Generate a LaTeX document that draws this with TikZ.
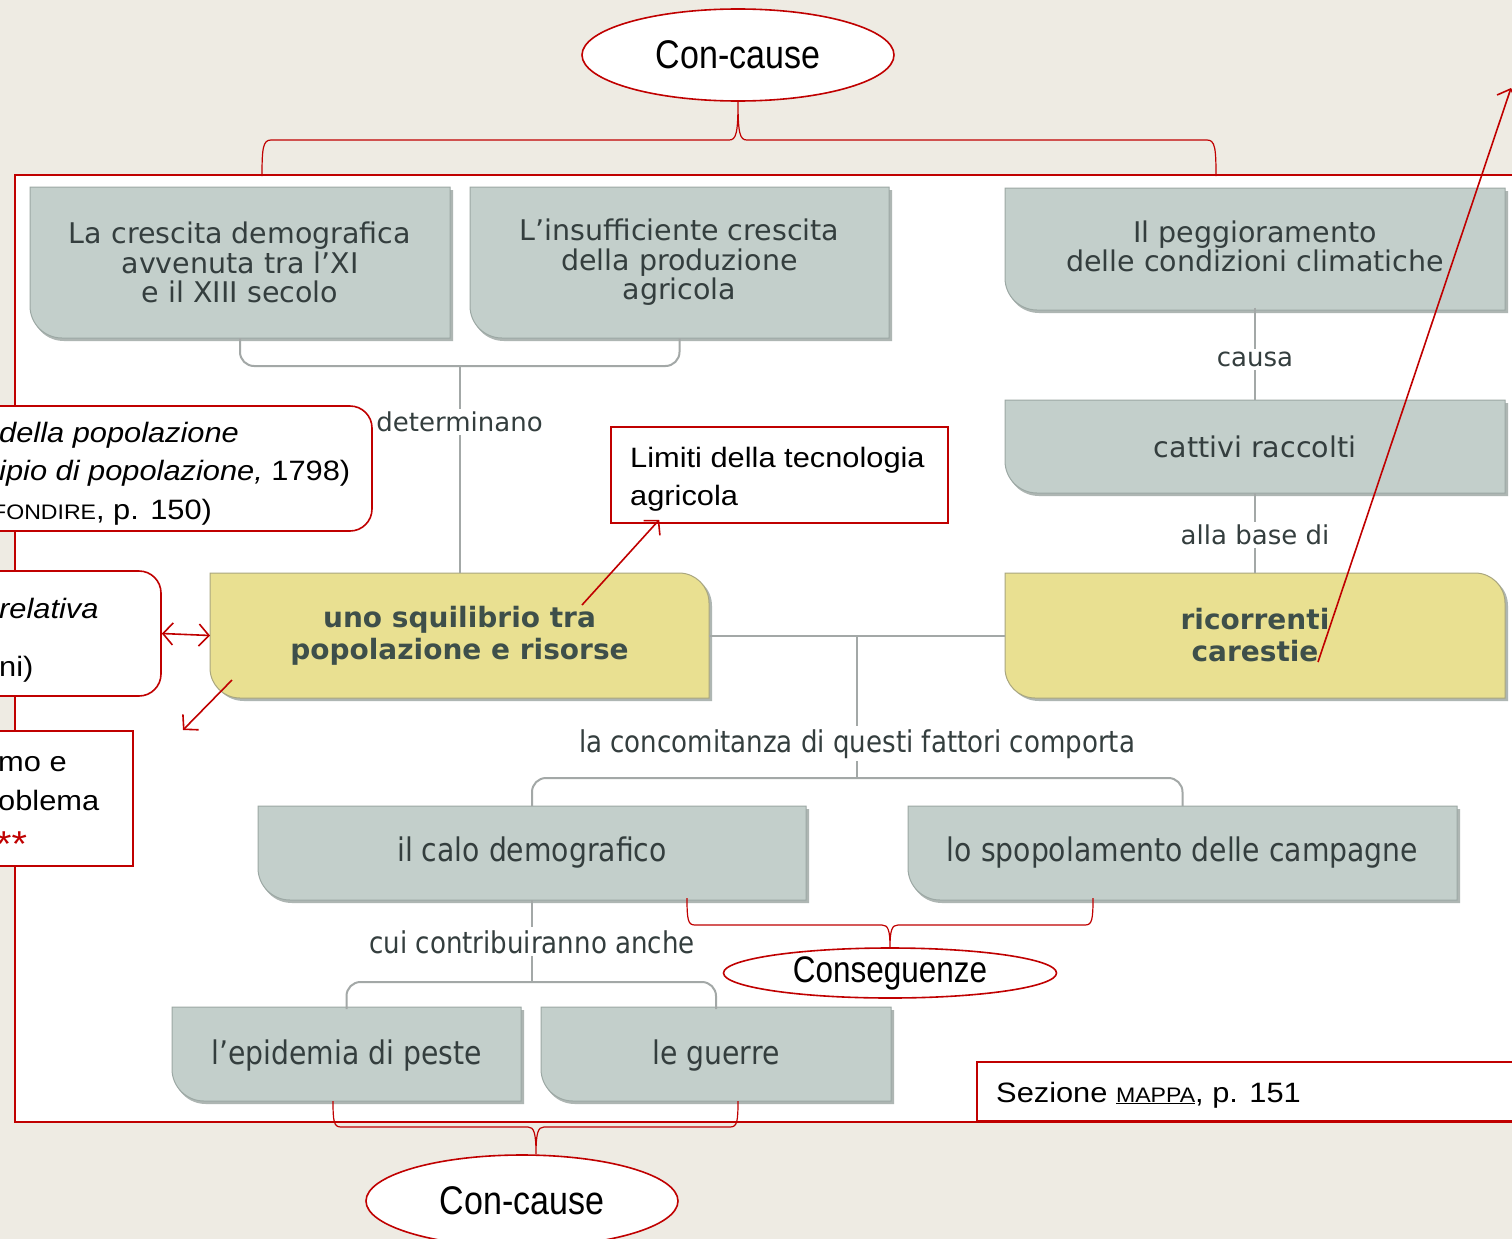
\documentclass[tikz,border=0pt]{standalone}
\usepackage{fontspec}
\usetikzlibrary{arrows.meta,calc,shapes.geometric}
\setmainfont{Liberation Sans}
\newfontfamily\mapf{DejaVu Sans}
\newfontfamily\mapc[FakeStretch=0.87]{DejaVu Sans}
\newfontfamily\annf[FakeStretch=1.1]{Liberation Sans}
\newfontfamily\ellf[FakeStretch=0.85]{Liberation Sans}
\definecolor{bgc}{HTML}{EEEBE3}
\definecolor{rc}{HTML}{C00000}
\definecolor{gfc}{HTML}{C3CFCB}
\definecolor{gdc}{HTML}{9CA8A4}
\definecolor{yfc}{HTML}{E9E091}
\definecolor{ydc}{HTML}{A9A67F}
\definecolor{txc}{HTML}{343E3E}
\definecolor{ytc}{HTML}{3E4F4A}
\definecolor{lnc}{HTML}{A3A8A7}
\definecolor{shc}{HTML}{AEB6B3}

\newcommand\greybox[7]{%
  \fill[gshadow] (#3+2,#4+3) -- (#5+3,#4+3) -- (#5+3,#6+3) -- (#3+34,#6+3) .. controls (#3+16,#6+3) and (#3+2,#6-11) .. (#3+2,#6-29) -- cycle;
  \path[gfill] (#3,#4) -- (#5,#4) -- (#5,#6) -- (#3+32,#6) .. controls (#3+14.3,#6) and (#3,#6-14.3) .. (#3,#6-32) -- cycle;
  \node[boxtext,#1,minimum width={#5-#3},minimum height={#6-#4}] (#2) at ({(#3+#5)/2},{(#4+#6)/2}) {#7};}

\newcommand\yellowbox[7]{%
  \fill[gshadow] (#3+2,#4+3) -- (#5-27,#4+3) .. controls (#5-10,#4+3) and (#5+3,#4+16) .. (#5+3,#4+33) -- (#5+3,#6+3) -- (#3+34,#6+3) .. controls (#3+16,#6+3) and (#3+2,#6-11) .. (#3+2,#6-29) -- cycle;
  \path[yfill] (#3,#4) -- (#5-30,#4) .. controls (#5-13.4,#4) and (#5,#4+13.4) .. (#5,#4+30) -- (#5,#6) -- (#3+30,#6) .. controls (#3+13.4,#6) and (#3,#6-13.4) .. (#3,#6-30) -- cycle;
  \node[boxtext,text=ytc,#1,minimum width={#5-#3},minimum height={#6-#4}] (#2) at ({(#3+#5)/2},{(#4+#6)/2}) {#7};}

\begin{document}
\begin{tikzpicture}[x=1pt,y=-1pt,
  gshadow/.style={fill=shc},
  gfill/.style={fill=gfc,draw=gdc,line width=1pt},
  yfill/.style={fill=yfc,draw=ydc,line width=1pt},
  boxtext/.style={inner sep=0pt,outer sep=0pt,align=center,text=txc,font=\mapf\fontsize{28.5}{29.5}\selectfont},
  condtext/.style={font=\mapc\fontsize{32.5}{34}\selectfont},
  boldtext/.style={font=\mapf\bfseries\fontsize{28}{32}\selectfont},
  conn/.style={draw=lnc,line width=2pt},
  lab/.style={fill=white,inner sep=3pt,text=txc,font=\mapf\fontsize{26}{28}\selectfont},
  labc/.style={fill=white,inner sep=3pt,text=txc,font=\mapc\fontsize{30}{32}\selectfont},
  redl/.style={draw=rc,line width=1.6pt},
  brc/.style={draw=rc,line width=1.2pt},
  rarrow/.style={draw=rc,line width=1.6pt,-{Straight Barb[length=10pt,width=22pt]}},
  rarrow2/.style={draw=rc,line width=1.6pt,{Straight Barb[length=10pt,width=22pt]}-{Straight Barb[length=10pt,width=22pt]}},
  redbox/.style={draw=rc,line width=1.6pt,fill=white},
  ell/.style={ellipse,draw=rc,line width=1.6pt,fill=white,inner sep=0pt,font=\ellf\fontsize{40}{40}\selectfont},
  ann/.style={inner sep=0pt,text=black,font=\annf\fontsize{28}{38}\selectfont}
]
\useasboundingbox (0,0) rectangle (1512,1239);
\clip (0,0) rectangle (1512,1239);
\fill[bgc] (0,0) rectangle (1512,1239);
% map area
\fill[white] (15,175) rectangle (1530,1122);
\draw[redl] (15,175) rectangle (1530,1122);

% boxes
\greybox{}{b1}{30}{187}{450}{338}{La crescita demografica\\avvenuta tra l’XI\\e il XIII secolo}
\greybox{}{b2}{470}{187}{889}{338}{L’insufficiente crescita\\della produzione\\agricola}
\greybox{yshift=2.5pt}{b3}{1005}{188}{1505}{310}{Il peggioramento\\delle condizioni climatiche}
\greybox{}{b4}{1005}{400}{1505}{493}{cattivi raccolti}
\yellowbox{boldtext}{y1}{210}{573}{709}{698}{uno squilibrio tra\\popolazione e risorse}
\yellowbox{boldtext}{y2}{1005}{573}{1505}{698}{ricorrenti\\carestie}
\greybox{condtext}{b5}{258}{806}{806}{900}{il calo demografico}
\greybox{condtext}{b6}{908}{806}{1457}{900}{lo spopolamento delle campagne}
\greybox{condtext,yshift=-2pt}{b7}{172}{1007}{521}{1101}{l’epidemia di peste}
\greybox{condtext,yshift=-2pt}{b8}{541}{1007}{891}{1101}{le guerre}

% grey connectors
\coordinate (j1) at (459.5,366);
\draw[conn,rounded corners=14pt] (b1.south) |- (j1) -| (b2.south);
\draw[conn] (j1) -- node[lab,pos=0.27] {determinano} (y1.north);
\draw[conn] (b3.south) -- node[lab,pos=0.56] {causa} (b4.north);
\draw[conn] (b4.south) -- node[lab,pos=0.525] {alla base di} (y2.north);
\draw[conn] (y1.east) -- (y2.west);
\coordinate (j2) at (857,635.5);
\coordinate (j3) at (857,778);
\draw[conn] (j2) -- node[labc,pos=0.76] {la concomitanza di questi fattori comporta} (j3);
\draw[conn,rounded corners=14pt] (b5.north) |- (j3) -| (b6.north);
\coordinate (j4) at (532,982);
\draw[conn] (b5.south) -- node[labc,pos=0.51] {cui contribuiranno anche} (j4);
\draw[conn,rounded corners=14pt] (b7.north) |- (j4) -| (b8.north);

% left annotation boxes (cut at the left edge)
\node[redbox,rounded corners=22pt,minimum width=402pt,minimum height=125pt] (boxA) at (171,468.5) {};
\node[ann,anchor=base west] (tA1) at (-1,442) {\itshape della popolazione};
\node[ann,anchor=base west] (tA2) at (-1,480) {{\itshape ipio di popolazione,} 1798)};
\node[ann,anchor=base west] (tA3) at (-8,519) {{\fontsize{21}{21}\selectfont FONDIRE}, p. 150)};

\node[redbox,rounded corners=22pt,minimum width=191pt,minimum height=125pt] (boxB) at (65.5,633.5) {};
\node[ann,anchor=base west] (tB1) at (-1,618) {\itshape relativa};
\node[ann,anchor=base west] (tB2) at (-1,676) {ni)};

\node[redbox,minimum width=163pt,minimum height=135pt] (boxC) at (51.5,798.5) {};
\node[ann,anchor=base west] (tC1) at (-2,771) {mo e};
\node[ann,anchor=base west] (tC2) at (-2,810) {oblema};
\node[ann,anchor=base west,text=rc,font=\annf\fontsize{36}{36}\selectfont] (tC3) at (-4,856) {**};

% Limiti box
\node[redbox,minimum width=337pt,minimum height=96pt] (lim) at (779.5,475) {};
\node[ann,anchor=base west,align=left] (limt) at (630,505) {Limiti della tecnologia\\agricola};

% Sezione box
\node[redbox,minimum width=553pt,minimum height=59pt] (sez) at (1253.5,1091.5) {};
\node[ann,anchor=base west] (tsez) at (996,1102) {Sezione \underline{\fontsize{21}{21}\selectfont MAPPA}, p. 151};

% red arrows
\coordinate (a1) at (582,605);
\draw[rarrow] (a1) -- ([xshift=49pt,yshift=4pt]lim.south west);
\draw[rarrow2] (boxB.east) -- (y1.west);
\coordinate (a3) at (232,680);
\coordinate (a4) at (183,730);
\draw[rarrow] (a3) -- (a4);
\coordinate (a5) at (1318,662);
\coordinate (a6) at (1511,88);
\draw[rarrow] (a5) -- (a6);

% ellipses
\node[ell,minimum width=312pt,minimum height=92pt] (e1) at (738,55) {Con-cause};
\node[ell,minimum width=333pt,minimum height=50pt,font=\ellf\fontsize{37}{37}\selectfont] (e2) at (890,973) {Conseguenze};
\node[ell,minimum width=312pt,minimum height=92pt] (e3) at (522,1201) {Con-cause};

% braces
\coordinate (t1) at (262,176);
\coordinate (t2) at (1216,176);
\draw[brc] (t1) .. controls (262,148) and (263,140) .. (271,140) -- (729,140) .. controls (736,140) and (738,134) .. (e1.south)
           .. controls (738,134) and (740,140) .. (747,140) -- (1207,140) .. controls (1215,140) and (1216,148) .. (t2);
\coordinate (m1) at (687,898);
\coordinate (m2) at (1093,898);
\draw[brc] (m1) .. controls (687,920) and (688,925) .. (695,925) -- (882,925) .. controls (888,925) and (890,930) .. (e2.north)
           .. controls (890,930) and (892,925) .. (898,925) -- (1085,925) .. controls (1092,925) and (1093,920) .. (m2);
\coordinate (n1) at (333,1101);
\coordinate (n2) at (738,1101);
\coordinate (n3) at ([xshift=14pt]e3.north);
\draw[brc] (n1) .. controls (333,1122) and (334,1127) .. (341,1127) -- (528,1127) .. controls (534,1127) and (536,1133) .. (n3)
           .. controls (536,1133) and (538,1127) .. (544,1127) -- (730,1127) .. controls (737,1127) and (738,1122) .. (n2);
\end{tikzpicture}
\end{document}
